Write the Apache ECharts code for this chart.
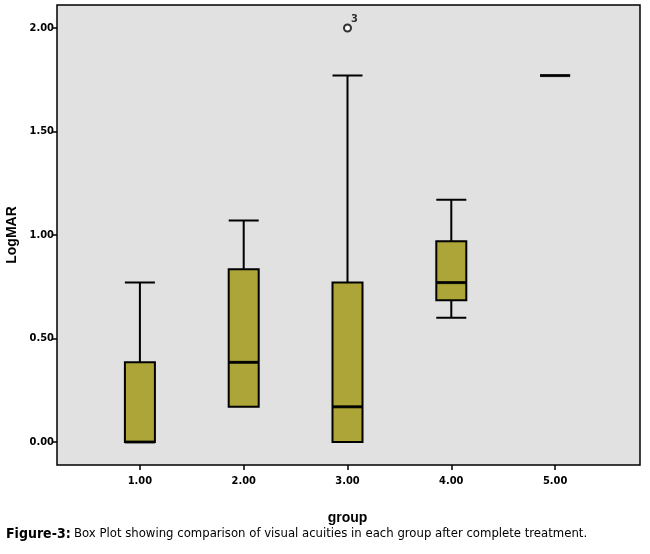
<!DOCTYPE html>
<html>
<head>
<meta charset="utf-8">
<script src="https://cdn.jsdelivr.net/npm/echarts@6/dist/echarts.min.js"></script>
<style>html,body{margin:0;padding:0;background:#fff}#chart{width:650px;height:554px}</style>
</head>
<body>
<div id="chart"></div>
<script>
var groups = ['1.00', '2.00', '3.00', '4.00', '5.00'];
// [min, Q1, median, Q3, max]
var boxes = [
    [0, 0, 0, 0.385, 0.77],
    [0.17, 0.17, 0.385, 0.835, 1.07],
    [0, 0, 0.17, 0.77, 1.77],
    [0.6, 0.685, 0.77, 0.97, 1.17],
    [1.77, 1.77, 1.77, 1.77, 1.77]
];
var outliers = [['3.00', 2.00, '3']];
var yTicks = [0, 0.5, 1, 1.5, 2];

var medians = boxes.map(function (b, i) { return [groups[i], b[2]]; });
var lab = 'DejaVu Sans Condensed, Liberation Sans, sans-serif';

var myChart = echarts.init(document.getElementById('chart'));
var option = {
    backgroundColor: '#fff',
    animation: false,
    graphic: [
        {type: 'rect', z: -10, shape: {x: 57, y: 5, width: 583, height: 460},
         style: {fill: '#e1e1e1', stroke: '#000', lineWidth: 1.5}},
        {type: 'text', left: 6, top: 527, style: {
            rich: {b: {fontWeight: 'bold', fontSize: 14, fontFamily: lab},
                   n: {fontSize: 13, fontFamily: lab}},
            text: '{b|Figure-3:} {n|Box Plot showing comparison of visual acuities in each group after complete treatment.}'
        }}
    ],
    grid: {left: 88, right: 43, top: 5, bottom: 89, outerBoundsMode: 'none'},
    xAxis: {
        type: 'category', data: groups,
        name: 'group', nameLocation: 'middle', nameGap: 46,
        nameTextStyle: {fontWeight: 'bold', fontSize: 14, color: '#000', fontFamily: 'Liberation Sans'},
        axisLine: {show: false, onZero: false},
        axisTick: {show: true, alignWithLabel: true, length: 5, lineStyle: {color: '#000', width: 1.5}},
        axisLabel: {color: '#000', fontSize: 11, fontWeight: 'bold', margin: 11, fontFamily: lab}
    },
    yAxis: {
        type: 'value', min: -0.111, max: 2.111, offset: 31,
        name: 'LogMAR', nameLocation: 'middle', nameGap: 36, nameRotate: 90,
        nameTextStyle: {fontWeight: 'bold', fontSize: 14, color: '#000', fontFamily: 'Liberation Sans'},
        axisLine: {show: false},
        axisTick: {show: true, length: 5, lineStyle: {color: '#000', width: 1.5},
                   customValues: yTicks},
        splitLine: {show: false},
        axisLabel: {color: '#000', fontSize: 11, fontWeight: 'bold', margin: 3, fontFamily: lab,
                    customValues: yTicks,
                    formatter: function (v) { return v.toFixed(2); }}
    },
    series: [
        {
            type: 'boxplot', data: boxes, boxWidth: [30, 30],
            itemStyle: {color: '#ada537', borderColor: '#000', borderWidth: 2},
            emphasis: {disabled: true}
        },
        {
            type: 'scatter', data: medians, symbol: 'rect', symbolSize: [30, 3],
            itemStyle: {color: '#000'}, z: 5
        },
        {
            type: 'scatter', data: outliers, symbol: 'emptyCircle', symbolSize: 7,
            itemStyle: {color: '#000', borderColor: '#000', borderWidth: 1.2},
            label: {show: true, position: [8, -10], color: '#000', fontSize: 11, fontWeight: 'bold',
                    fontFamily: lab,
                    formatter: function (p) { return p.data[2]; }}
        }
    ]
};
myChart.setOption(option);
</script>
</body>
</html>
